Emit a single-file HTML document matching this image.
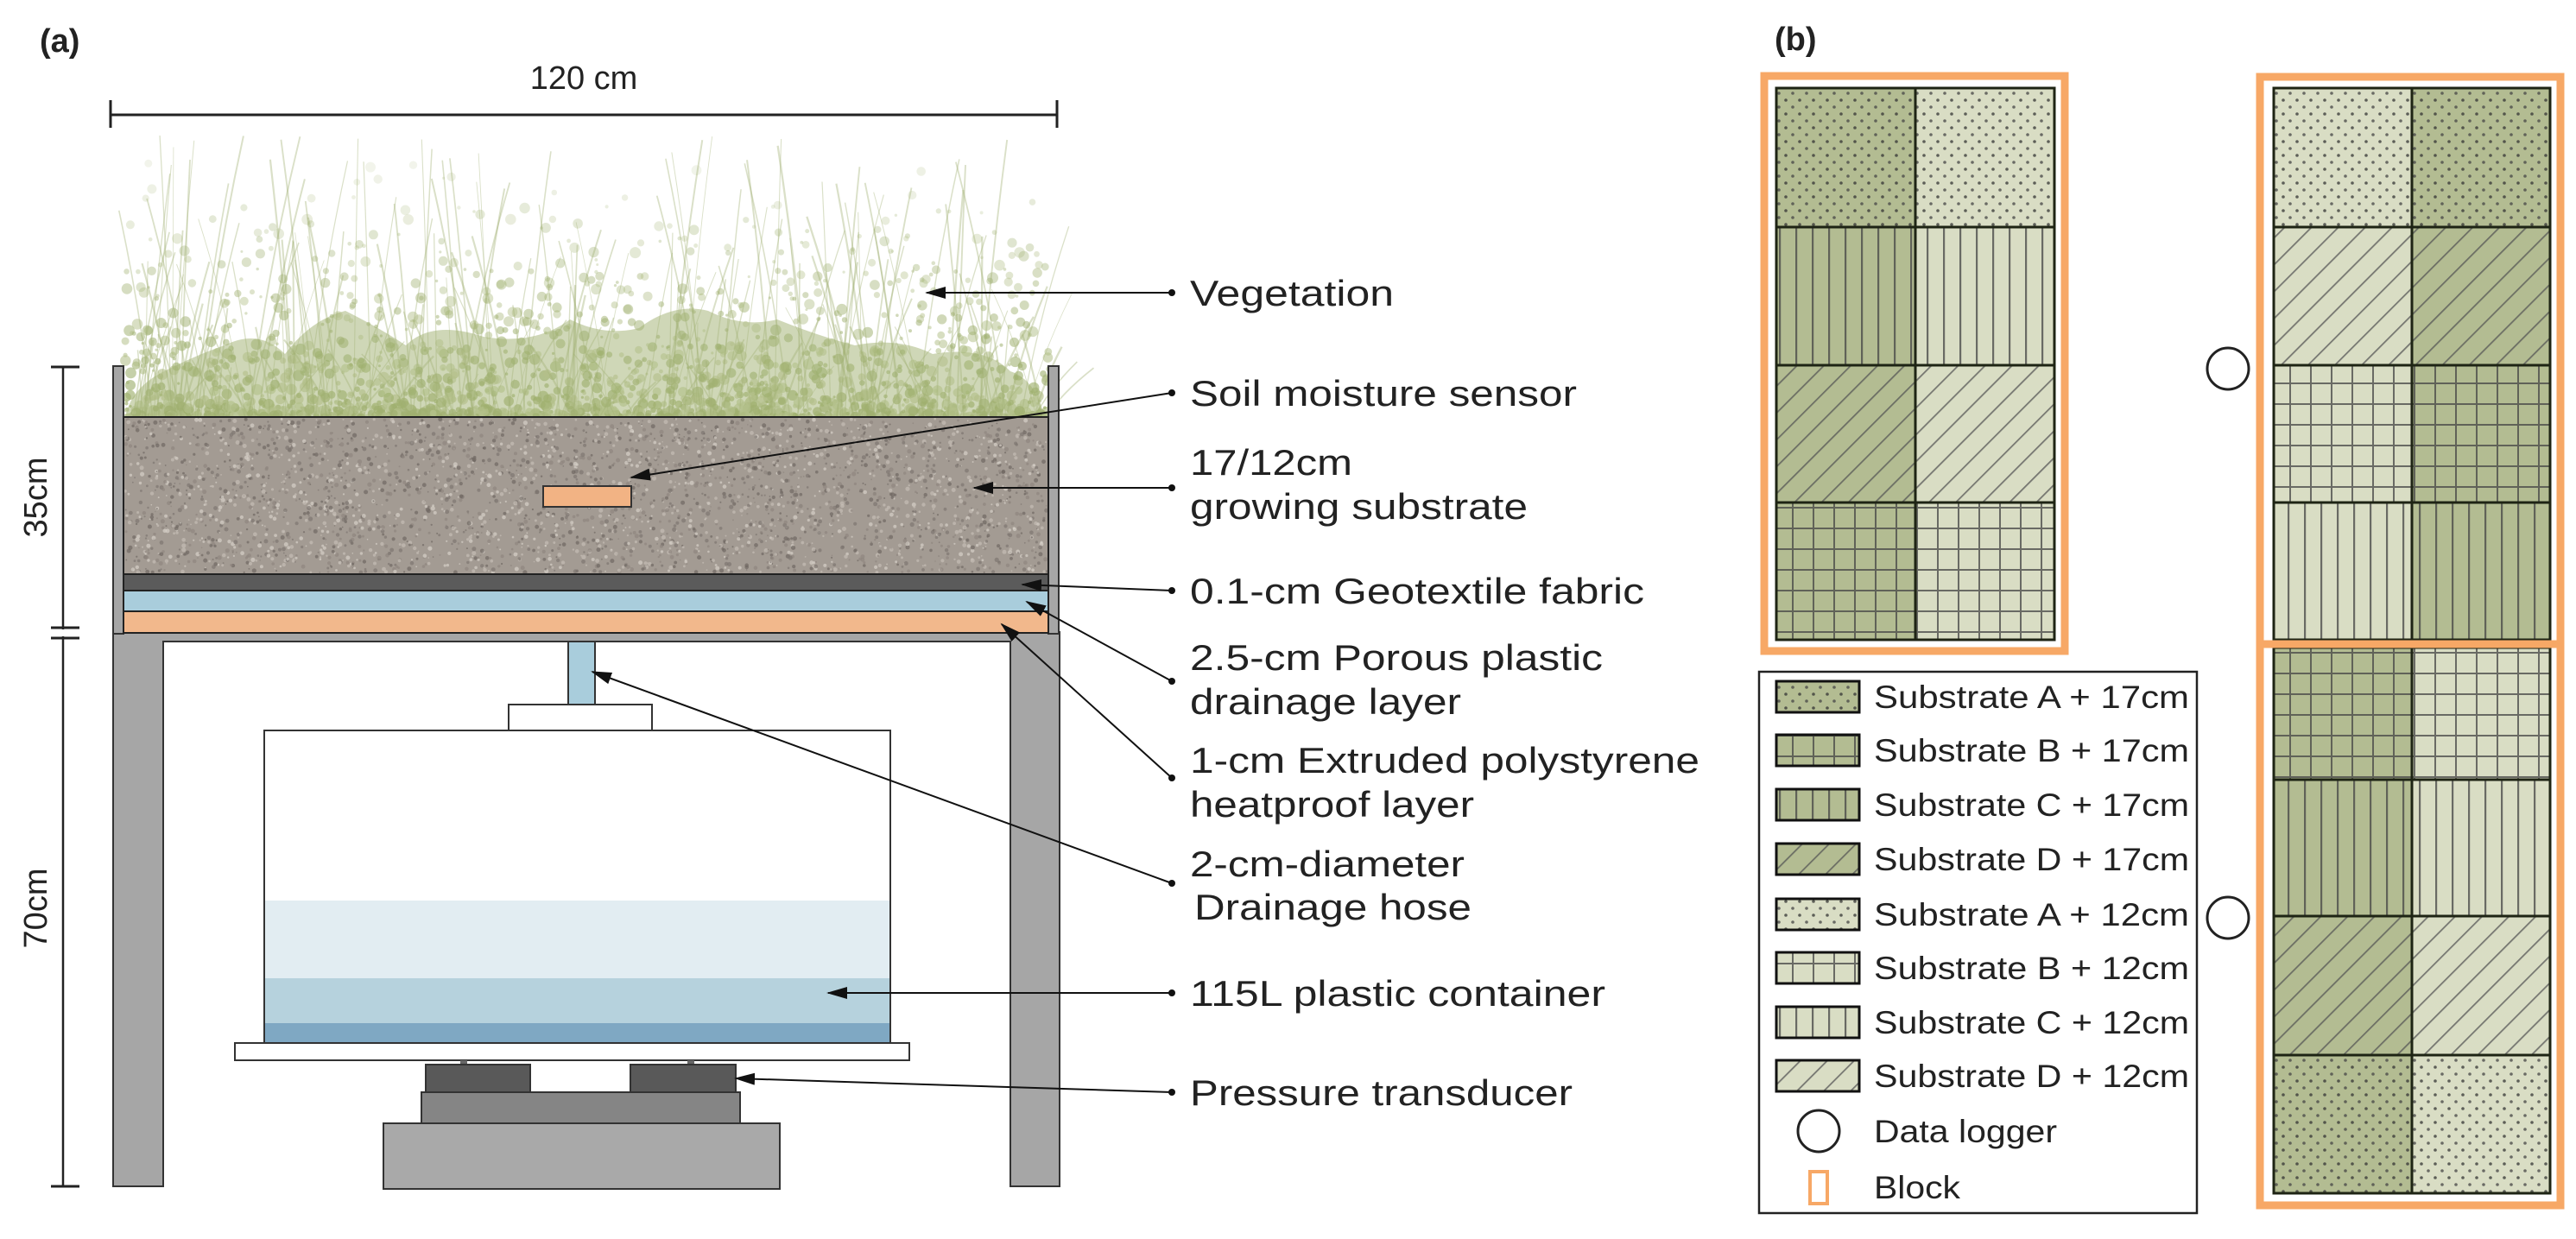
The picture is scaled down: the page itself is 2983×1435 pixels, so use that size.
<!DOCTYPE html>
<html><head><meta charset="utf-8"><style>
html,body{margin:0;padding:0;background:#fff;}
svg{display:block;}
text{font-family:"Liberation Sans",Arial,sans-serif;fill:#222;}
</style></head><body>
<svg id="s" width="2983" height="1435" viewBox="0 0 2983 1435" xmlns="http://www.w3.org/2000/svg">
<defs>
<marker id="ar2" markerWidth="24" markerHeight="14" refX="22" refY="7" orient="auto" markerUnits="userSpaceOnUse" viewBox="0 0 24 14">
<path d="M0,0 L24,7 L0,14 z" fill="#111"/></marker>
<pattern id="dots" width="16" height="16" patternUnits="userSpaceOnUse">
<circle cx="4" cy="4" r="1.8" fill="#333"/><circle cx="12" cy="12" r="1.8" fill="#444"/></pattern>
<pattern id="vert" width="19" height="10" patternUnits="userSpaceOnUse">
<rect x="8" y="0" width="2.2" height="10" fill="#444"/></pattern>
<pattern id="grid" width="24" height="24" patternUnits="userSpaceOnUse">
<rect x="11" y="0" width="2" height="24" fill="#444"/><rect x="0" y="11" width="24" height="2" fill="#444"/></pattern>
<pattern id="diag" width="22" height="22" patternUnits="userSpaceOnUse" patternTransform="rotate(-45)">
<rect x="0" y="10" width="22" height="1.8" fill="#555"/></pattern>
</defs>

<!-- (a) -->
<text x="46" y="60" font-size="38" font-weight="bold">(a)</text>
<text x="676" y="103" font-size="38" text-anchor="middle">120 cm</text>
<line x1="128" y1="133" x2="1224" y2="133" stroke="#222" stroke-width="3"/>
<line x1="128" y1="116" x2="128" y2="148" stroke="#222" stroke-width="3"/>
<line x1="1224" y1="116" x2="1224" y2="148" stroke="#222" stroke-width="3"/>

<!-- vegetation -->
<g id="veg" fill="#a7b67c">
<path d="M145,485 Q150,450 190,430 Q230,410 260,400 Q300,380 330,410 Q360,370 400,360 Q440,380 470,400 Q500,370 560,390 Q620,400 660,370 Q700,390 740,380 Q780,350 820,360 Q860,380 900,370 Q950,390 990,400 Q1040,390 1080,410 Q1140,400 1170,430 Q1200,440 1210,485 Z" opacity="0.55"/>
</g>

<!-- frame -->
<path d="M131,732 H1227 V1374 H1170 V743 H189 V1374 H131 Z" fill="#a6a6a6" stroke="#333" stroke-width="2"/>
<rect x="131" y="424" width="12" height="310" fill="#a6a6a6" stroke="#333" stroke-width="2"/>
<rect x="1214" y="424" width="12" height="310" fill="#a6a6a6" stroke="#333" stroke-width="2"/>
<!-- substrate -->
<rect x="143" y="483" width="1071" height="182" fill="#a39b93"/>
<g id="grav"></g>
<rect x="143" y="483" width="1071" height="182" fill="none" stroke="#222" stroke-width="2"/>
<rect x="629" y="563" width="102" height="24" fill="#f2b384" stroke="#333" stroke-width="2"/>
<rect x="143" y="665" width="1071" height="19" fill="#5b5b5b" stroke="#222" stroke-width="2"/>
<rect x="143" y="684" width="1071" height="24" fill="#a9cddc" stroke="#222" stroke-width="2"/>
<rect x="143" y="708" width="1071" height="25" fill="#f2b88c" stroke="#222" stroke-width="2"/>

<!-- hose & container -->
<rect x="658" y="743" width="31" height="74" fill="#a9cddc" stroke="#333" stroke-width="2"/>
<rect x="589" y="816" width="166" height="30" fill="#fff" stroke="#333" stroke-width="2"/>
<rect x="306" y="846" width="725" height="362" fill="#fff"/>
<rect x="306" y="1043" width="725" height="90" fill="#e2edf2"/>
<rect x="306" y="1133" width="725" height="52" fill="#b6d2dd"/>
<rect x="306" y="1185" width="725" height="23" fill="#7fa8c3"/>
<rect x="306" y="846" width="725" height="362" fill="none" stroke="#333" stroke-width="2"/>
<rect x="272" y="1208" width="781" height="20" fill="#fff" stroke="#333" stroke-width="2"/>
<rect x="533" y="1228" width="8" height="6" fill="#666"/><rect x="796" y="1228" width="8" height="6" fill="#666"/>
<rect x="493" y="1233" width="121" height="33" fill="#595959" stroke="#333" stroke-width="2"/>
<rect x="730" y="1233" width="122" height="33" fill="#595959" stroke="#333" stroke-width="2"/>
<rect x="488" y="1265" width="369" height="36" fill="#858585" stroke="#333" stroke-width="2"/>
<rect x="444" y="1301" width="459" height="76" fill="#a9a9a9" stroke="#333" stroke-width="2"/>

<!-- left dims -->
<line x1="73" y1="425" x2="73" y2="1374" stroke="#222" stroke-width="2.5"/>
<line x1="59" y1="425" x2="92" y2="425" stroke="#222" stroke-width="3"/>
<line x1="59" y1="727" x2="92" y2="727" stroke="#222" stroke-width="3"/>
<line x1="59" y1="739" x2="92" y2="739" stroke="#222" stroke-width="3"/>
<line x1="59" y1="1374" x2="92" y2="1374" stroke="#222" stroke-width="3"/>
<rect x="68" y="729" width="10" height="8" fill="#fff"/>
<text transform="translate(54,576) rotate(-90)" font-size="38" text-anchor="middle">35cm</text>
<text transform="translate(54,1052) rotate(-90)" font-size="38" text-anchor="middle">70cm</text>

<!-- label connectors -->
<g stroke="#111" stroke-width="2" fill="none" marker-end="url(#ar2)">
<line x1="1357" y1="339" x2="1073" y2="339"/>
<line x1="1357" y1="455" x2="731" y2="553"/>
<line x1="1357" y1="565" x2="1128" y2="565"/>
<line x1="1357" y1="684" x2="1184" y2="677"/>
<line x1="1357" y1="789" x2="1189" y2="697"/>
<line x1="1357" y1="901" x2="1160" y2="723"/>
<line x1="1357" y1="1023" x2="686" y2="778"/>
<line x1="1357" y1="1150" x2="959" y2="1150"/>
<line x1="1357" y1="1265" x2="852" y2="1249"/>
</g>
<g fill="#111">
<circle cx="1357" cy="339" r="4"/><circle cx="1357" cy="455" r="4"/><circle cx="1357" cy="565" r="4"/>
<circle cx="1357" cy="684" r="4"/><circle cx="1357" cy="789" r="4"/><circle cx="1357" cy="901" r="4"/>
<circle cx="1357" cy="1023" r="4"/><circle cx="1357" cy="1150" r="4"/><circle cx="1357" cy="1265" r="4"/>
</g>
<g font-size="42">
<text x="1378" y="354" textLength="236" lengthAdjust="spacingAndGlyphs">Vegetation</text>
<text x="1378" y="470" textLength="448" lengthAdjust="spacingAndGlyphs">Soil moisture sensor</text>
<text x="1378" y="550" textLength="188" lengthAdjust="spacingAndGlyphs">17/12cm</text>
<text x="1378" y="601" textLength="391" lengthAdjust="spacingAndGlyphs">growing substrate</text>
<text x="1378" y="699" textLength="526" lengthAdjust="spacingAndGlyphs">0.1-cm Geotextile fabric</text>
<text x="1378" y="776" textLength="478" lengthAdjust="spacingAndGlyphs">2.5-cm Porous plastic</text>
<text x="1378" y="827" textLength="314" lengthAdjust="spacingAndGlyphs">drainage layer</text>
<text x="1378" y="895" textLength="590" lengthAdjust="spacingAndGlyphs">1-cm Extruded polystyrene</text>
<text x="1378" y="946" textLength="329" lengthAdjust="spacingAndGlyphs">heatproof layer</text>
<text x="1378" y="1015" textLength="318" lengthAdjust="spacingAndGlyphs">2-cm-diameter</text>
<text x="1383" y="1065" textLength="321" lengthAdjust="spacingAndGlyphs">Drainage hose</text>
<text x="1378" y="1165" textLength="481" lengthAdjust="spacingAndGlyphs">115L plastic container</text>
<text x="1378" y="1280" textLength="443" lengthAdjust="spacingAndGlyphs">Pressure transducer</text>
</g>

<!-- (b) -->
<text x="2055" y="58" font-size="38" font-weight="bold">(b)</text>
<g id="cells"></g>
<rect x="2043" y="88" width="348" height="666" fill="none" stroke="#f7a866" stroke-width="9"/>
<rect x="2617" y="89" width="348" height="657" fill="none" stroke="#f7a866" stroke-width="9"/>
<rect x="2617" y="746" width="348" height="650" fill="none" stroke="#f7a866" stroke-width="9"/>
<circle cx="2580" cy="427" r="24" fill="#fff" stroke="#222" stroke-width="3"/>
<circle cx="2580" cy="1063" r="24" fill="#fff" stroke="#222" stroke-width="3"/>

<!-- legend -->
<rect x="2037" y="778" width="507" height="627" fill="#fff" stroke="#222" stroke-width="2.5"/>
<g id="leg"></g>
<g font-size="37">
<text x="2170" y="820" textLength="365" lengthAdjust="spacingAndGlyphs">Substrate A + 17cm</text>
<text x="2170" y="882" textLength="365" lengthAdjust="spacingAndGlyphs">Substrate B + 17cm</text>
<text x="2170" y="945" textLength="365" lengthAdjust="spacingAndGlyphs">Substrate C + 17cm</text>
<text x="2170" y="1008" textLength="365" lengthAdjust="spacingAndGlyphs">Substrate D + 17cm</text>
<text x="2170" y="1072" textLength="365" lengthAdjust="spacingAndGlyphs">Substrate A + 12cm</text>
<text x="2170" y="1134" textLength="365" lengthAdjust="spacingAndGlyphs">Substrate B + 12cm</text>
<text x="2170" y="1197" textLength="365" lengthAdjust="spacingAndGlyphs">Substrate C + 12cm</text>
<text x="2170" y="1259" textLength="365" lengthAdjust="spacingAndGlyphs">Substrate D + 12cm</text>
<text x="2170" y="1323" textLength="212" lengthAdjust="spacingAndGlyphs">Data logger</text>
<text x="2170" y="1388" textLength="100" lengthAdjust="spacingAndGlyphs">Block</text>
</g>
<circle cx="2106" cy="1310" r="24" fill="#fff" stroke="#222" stroke-width="3"/>
<rect x="2096" y="1357" width="20" height="37" fill="none" stroke="#f7a866" stroke-width="4"/>
</svg>
<script>
(function(){
var NS="http://www.w3.org/2000/svg";
function el(p,t,a){var e=document.createElementNS(NS,t);for(var k in a)e.setAttribute(k,a[k]);p.appendChild(e);return e;}
var seed=7;function r(){seed=(seed*16807)%2147483647;return (seed-1)/2147483646;}
// vegetation
var veg=document.getElementById('veg');
for(var i=0;i<2200;i++){
 var x=145+r()*1070; var h=Math.pow(r(),2.2)*300+5; var y=485-r()*h;
 var op=0.15+0.55*Math.max(0,(y-180))/305;
 el(veg,'circle',{cx:x.toFixed(1),cy:y.toFixed(1),r:(1.5+r()*5).toFixed(1),fill:r()<0.5?'#9fb06f':'#b3c08a',opacity:op.toFixed(2)});
}
for(var i=0;i<220;i++){
 var x=150+r()*1060, h=40+r()*290, dx=(r()-0.5)*120;
 el(veg,'path',{d:'M'+x+',485 Q'+(x+dx/3)+','+(485-h/2)+' '+(x+dx)+','+(485-h),stroke:'#a3b276','stroke-width':(0.8+r()*1.5).toFixed(1),fill:'none',opacity:'0.4'});
}
// gravel
var gv=document.getElementById('grav');
var cols=['#7d7670','#c4bdb5','#8e867f','#d6d0c8','#6f6862'];
for(var i=0;i<3500;i++){
 el(gv,'circle',{cx:(145+r()*1067).toFixed(1),cy:(485+r()*178).toFixed(1),r:(0.8+r()*1.8).toFixed(1),fill:cols[Math.floor(r()*5)],opacity:'0.7'});
}
// cells
var fills={A17:['#b3bc92','dots'],B17:['#b3bc92','grid'],C17:['#b3bc92','vert'],D17:['#b3bc92','diag'],
A12:['#d9ddc4','dots'],B12:['#d9ddc4','grid'],C12:['#d9ddc4','vert'],D12:['#d9ddc4','diag']};
var cg=document.getElementById('cells');
function cell(x,y,w,h,k){var f=fills[k];el(cg,'rect',{x:x,y:y,width:w,height:h,fill:f[0]});el(cg,'rect',{x:x,y:y,width:w,height:h,fill:'url(#'+f[1]+')',opacity:'0.75'});el(cg,'rect',{x:x,y:y,width:w,height:h,fill:'none',stroke:'#1e2414','stroke-width':'3'});}
var L=[['A17','A12'],['C17','C12'],['D17','D12'],['B17','B12']];
var ly=[102,263,423,582,741];
for(var i=0;i<4;i++){cell(2057,ly[i],161,ly[i+1]-ly[i],L[i][0]);cell(2218,ly[i],161,ly[i+1]-ly[i],L[i][1]);}
var R1=[['A12','A17'],['D12','D17'],['B12','B17'],['C12','C17']];
for(var i=0;i<4;i++){cell(2633,ly[i],160,ly[i+1]-ly[i],R1[i][0]);cell(2793,ly[i],160,ly[i+1]-ly[i],R1[i][1]);}
var ry=[750,903,1061,1222,1382];
var R2=[['B17','B12'],['C17','C12'],['D17','D12'],['A17','A12']];
for(var i=0;i<4;i++){cell(2633,ry[i],160,ry[i+1]-ry[i],R2[i][0]);cell(2793,ry[i],160,ry[i+1]-ry[i],R2[i][1]);}
// legend swatches
var lg=document.getElementById('leg');
var keys=['A17','B17','C17','D17','A12','B12','C12','D12'];
var cy=[807,869,932,995,1059,1121,1184,1246];
for(var i=0;i<8;i++){var f=fills[keys[i]];var y=cy[i]-18;
 el(lg,'rect',{x:2057,y:y,width:96,height:36,fill:f[0]});
 el(lg,'rect',{x:2057,y:y,width:96,height:36,fill:'url(#'+f[1]+')',opacity:'0.75'});
 el(lg,'rect',{x:2057,y:y,width:96,height:36,fill:'none',stroke:'#111','stroke-width':'3'});}
})();
</script>
</body></html>
